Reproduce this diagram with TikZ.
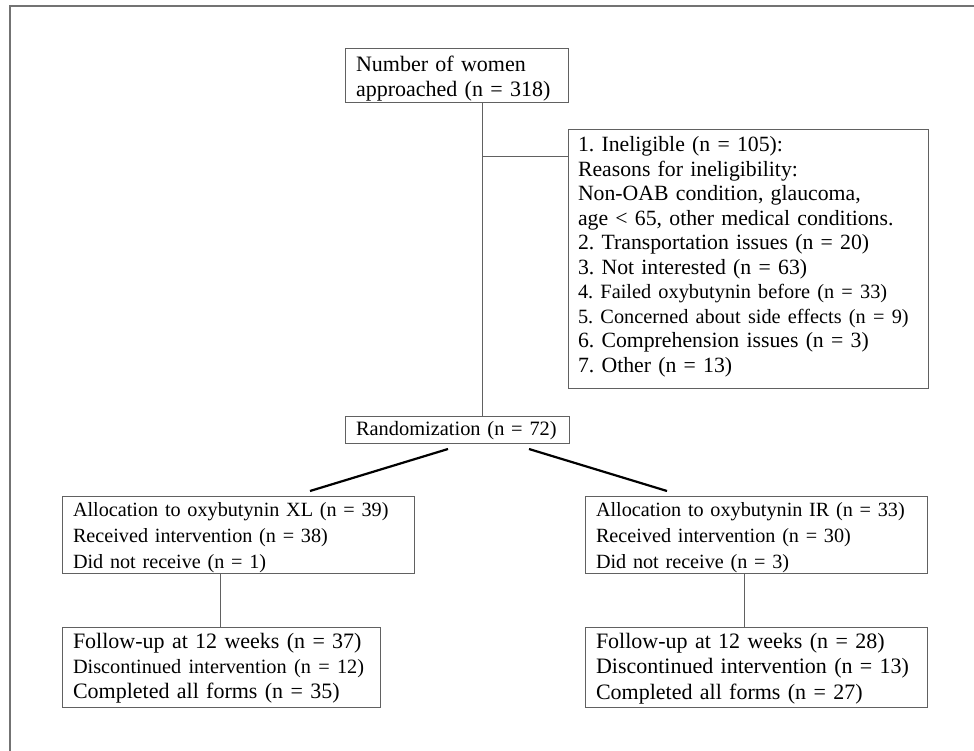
\documentclass[tikz,border=0pt]{standalone}
\usepackage{fontspec}
\setmainfont{Liberation Serif}
\frenchspacing
\newcommand\allocfnt{\fontsize{20.2}{26}\selectfont}
\newcommand\topfnt{\fontsize{22}{25}\selectfont}
\newcommand\randfnt{\fontsize{20.4}{25}\selectfont}
\newcommand\reasonfnt{\fontsize{21.75}{24.5}\selectfont}
\newcommand\smfnt{\fontsize{20.3}{24.5}\selectfont}
\newcommand\fuxfnt{\fontsize{22}{25}\selectfont}
\newcommand\fuifnt{\fontsize{22}{25.5}\selectfont}
\newcommand\smxfnt{\fontsize{20.3}{25}\selectfont}
\newcommand\tp[1]{\rule{0pt}{#1pt}}
\newcommand\bt[1]{\rule[-#1pt]{0pt}{#1pt}}
\newcommand\ml[1]{\mbox{#1}}
\begin{document}
\begin{tikzpicture}[x=1pt,y=-1pt,
  box/.style={draw=black!62, line width=1pt, rectangle, anchor=north west, outer sep=0pt,
    inner xsep=11pt, inner ysep=0pt, align=left, font=\allocfnt},
  conn/.style={draw=black!62, line width=1pt},
  diag/.style={draw=black, line width=2.2pt},
  frame/.style={draw=black!55, line width=1.5pt}]
\useasboundingbox (0,0) rectangle (974,751);
\draw[frame] (10,751) -- (10,6) -- (974,6);

\node[box, font=\topfnt, minimum width=223, text width=201] (b1) at (345,49)
  {\ml{\tp{23}Number of women}\\\ml{approached (n = 318)\bt{6}}};
\node[box, font=\reasonfnt, inner xsep=10pt, minimum width=360, text width=340] (b2) at (568,130)
  {\ml{\tp{22}1. Ineligible (n = 105):}\\
   \ml{Reasons for ineligibility:}\\
   \ml{Non-OAB condition, glaucoma,}\\
   \ml{age {\textless} 65, other medical conditions.}\\
   \ml{2. Transportation issues (n = 20)}\\
   \ml{3. Not interested (n = 63)}\\
   \ml{\smfnt 4. Failed oxybutynin before (n = 33)}\\
   \ml{\smfnt 5. Concerned about side effects (n = 9)}\\
   \ml{6. Comprehension issues (n = 3)}\\
   \ml{7. Other (n = 13)\bt{15.5}}};
\node[box, font=\randfnt, minimum width=224, text width=202] (rand) at (345,416)
  {\ml{\tp{19}Randomization (n = 72)\bt{8}}};
\node[box, minimum width=352, text width=330] (xl) at (62,496)
  {\ml{\tp{20}Allocation to oxybutynin XL (n = 39)}\\
   \ml{Received intervention (n = 38)}\\
   \ml{Did not receive (n = 1)\bt{5}}};
\node[box, minimum width=342, text width=320] (ir) at (585,496)
  {\ml{\tp{20}Allocation to oxybutynin IR (n = 33)}\\
   \ml{Received intervention (n = 30)}\\
   \ml{Did not receive (n = 3)\bt{5}}};
\node[box, font=\fuxfnt, minimum width=318, text width=296] (xlf) at (62,627)
  {\ml{\tp{21}Follow-up at 12 weeks (n = 37)}\\
   \ml{\smxfnt Discontinued intervention (n = 12)}\\
   \ml{Completed all forms (n = 35)\bt{9}}};
\node[box, font=\fuifnt, minimum width=342, text width=320] (irf) at (585,627)
  {\ml{\tp{21}Follow-up at 12 weeks (n = 28)}\\
   \ml{Discontinued intervention (n = 13)}\\
   \ml{Completed all forms (n = 27)\bt{8}}};

\coordinate (j) at (482,157);
\coordinate (dl1) at (448,449);
\coordinate (dl2) at (310,491);
\coordinate (dr1) at (529,449);
\coordinate (dr2) at (667,491);
\coordinate (vx) at (220,600);
\coordinate (vi) at (744,600);

\draw[conn] (b1.south -| j) -- (rand.north -| j);
\draw[conn] (j) -- (b2.west |- j);
\draw[diag] (dl1) -- (dl2);
\draw[diag] (dr1) -- (dr2);
\draw[conn] (xl.south -| vx) -- (xlf.north -| vx);
\draw[conn] (ir.south -| vi) -- (irf.north -| vi);
\end{tikzpicture}
\end{document}
